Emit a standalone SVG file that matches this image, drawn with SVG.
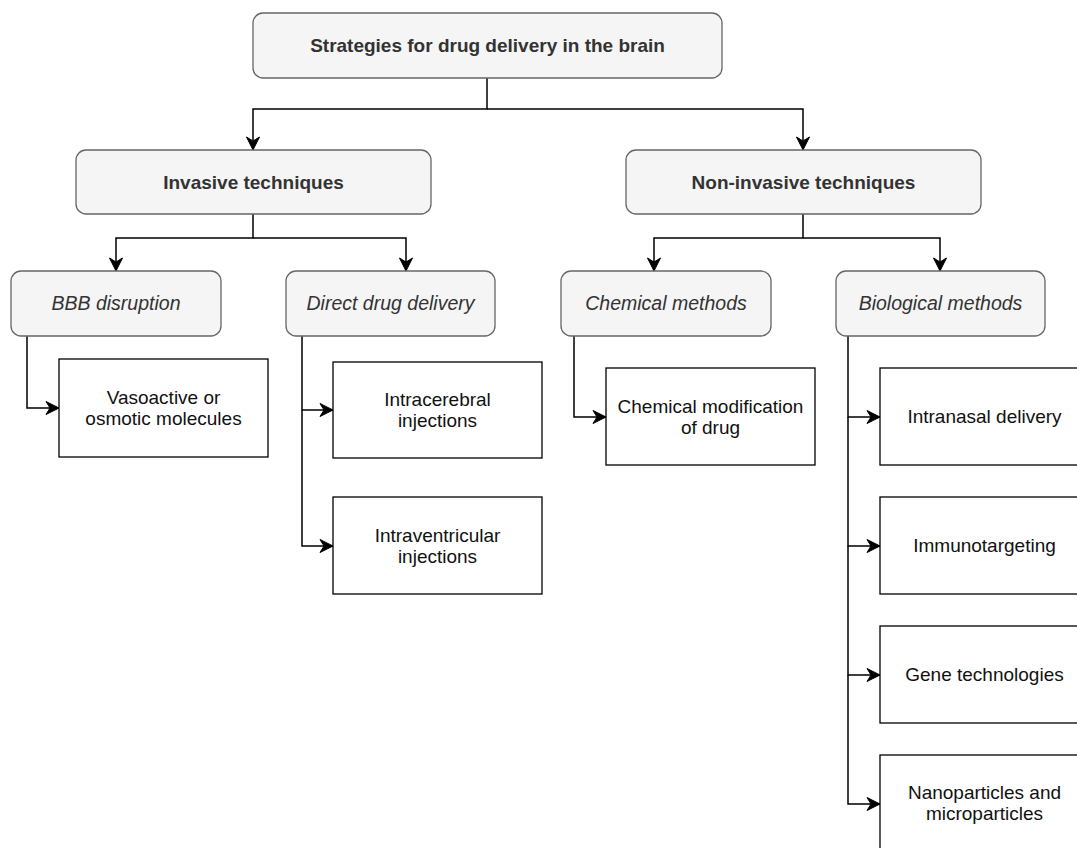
<svg xmlns="http://www.w3.org/2000/svg" width="1077" height="848" viewBox="0 0 1077 848">
<style>
.g{fill:#f5f5f5;stroke:#666;stroke-width:1.3}
.w{fill:#fff;stroke:#000;stroke-width:1.3}
.b{font-family:"Liberation Sans",Arial,sans-serif;font-size:19px;font-weight:bold;fill:#333;text-anchor:middle}
.i{font-family:"Liberation Sans",Arial,sans-serif;font-size:19.5px;font-style:italic;fill:#333;text-anchor:middle}
.t{font-family:"Liberation Sans",Arial,sans-serif;font-size:19px;fill:#111;text-anchor:middle}
.c{fill:none;stroke:#000;stroke-width:1.5}
</style>
<defs>
<marker id="a" markerUnits="userSpaceOnUse" markerWidth="16" markerHeight="16" refX="0" refY="0" viewBox="-14 -8 16 16" orient="auto" overflow="visible">
<path d="M0,0 L-13,-6.5 L-9,0 L-13,6.5 Z" fill="#000" stroke="#000" stroke-width="1"/>
</marker>
</defs>
<rect width="1077" height="848" fill="#fff"/>
<g id="connectors">
<path class="c" d="M487,78 V109 H253 V150" marker-end="url(#a)"/>
<path class="c" d="M487,109 H803 V150" marker-end="url(#a)"/>
<path class="c" d="M253,214 V238 H116 V271" marker-end="url(#a)"/>
<path class="c" d="M253,238 H406 V271" marker-end="url(#a)"/>
<path class="c" d="M803,214 V238 H654 V271" marker-end="url(#a)"/>
<path class="c" d="M803,238 H940 V271" marker-end="url(#a)"/>
<path class="c" d="M27,336 V408 H59" marker-end="url(#a)"/>
<path class="c" d="M302,336 V410 H333" marker-end="url(#a)"/>
<path class="c" d="M302,410 V546 H333" marker-end="url(#a)"/>
<path class="c" d="M574,336 V417 H606" marker-end="url(#a)"/>
<path class="c" d="M848,336 V417 H880" marker-end="url(#a)"/>
<path class="c" d="M848,417 V546 H880" marker-end="url(#a)"/>
<path class="c" d="M848,546 V675 H880" marker-end="url(#a)"/>
<path class="c" d="M848,675 V804 H880" marker-end="url(#a)"/>
</g>
<g id="root"><rect class="g" x="253" y="13" width="469" height="65" rx="10"/><text class="b" x="487.5" y="52">Strategies for drug delivery in the brain</text></g>
<g id="invasive"><rect class="g" x="76" y="150" width="355" height="64" rx="10"/><text class="b" x="253.5" y="189">Invasive techniques</text></g>
<g id="noninvasive"><rect class="g" x="626" y="150" width="355" height="64" rx="10"/><text class="b" x="803.5" y="189">Non-invasive techniques</text></g>
<g id="bbb"><rect class="g" x="11" y="271" width="210" height="65" rx="10"/><text class="i" x="116" y="310">BBB disruption</text></g>
<g id="direct"><rect class="g" x="286" y="271" width="209" height="65" rx="10"/><text class="i" x="390.5" y="310">Direct drug delivery</text></g>
<g id="chemical"><rect class="g" x="561" y="271" width="210" height="65" rx="10"/><text class="i" x="666" y="310">Chemical methods</text></g>
<g id="biological"><rect class="g" x="836" y="271" width="209" height="65" rx="10"/><text class="i" x="940.5" y="310">Biological methods</text></g>
<g id="vasoactive"><rect class="w" x="59" y="359" width="209" height="98"/><text class="t" x="163.5" y="404">Vasoactive or</text><text class="t" x="163.5" y="425">osmotic molecules</text></g>
<g id="intracerebral"><rect class="w" x="333" y="362" width="209" height="96"/><text class="t" x="437.5" y="406">Intracerebral</text><text class="t" x="437.5" y="427">injections</text></g>
<g id="intraventricular"><rect class="w" x="333" y="497" width="209" height="97"/><text class="t" x="437.5" y="542">Intraventricular</text><text class="t" x="437.5" y="563">injections</text></g>
<g id="chemmod"><rect class="w" x="606" y="368" width="209" height="97"/><text class="t" x="710.5" y="413">Chemical modification</text><text class="t" x="710.5" y="434">of drug</text></g>
<g id="intranasal"><rect class="w" x="880" y="368" width="209" height="97"/><text class="t" x="984.5" y="423">Intranasal delivery</text></g>
<g id="immuno"><rect class="w" x="880" y="497" width="209" height="97"/><text class="t" x="984.5" y="552">Immunotargeting</text></g>
<g id="gene"><rect class="w" x="880" y="626" width="209" height="97"/><text class="t" x="984.5" y="681">Gene technologies</text></g>
<g id="nano"><rect class="w" x="880" y="755" width="209" height="97"/><text class="t" x="984.5" y="799">Nanoparticles and</text><text class="t" x="984.5" y="820">microparticles</text></g>
</svg>
